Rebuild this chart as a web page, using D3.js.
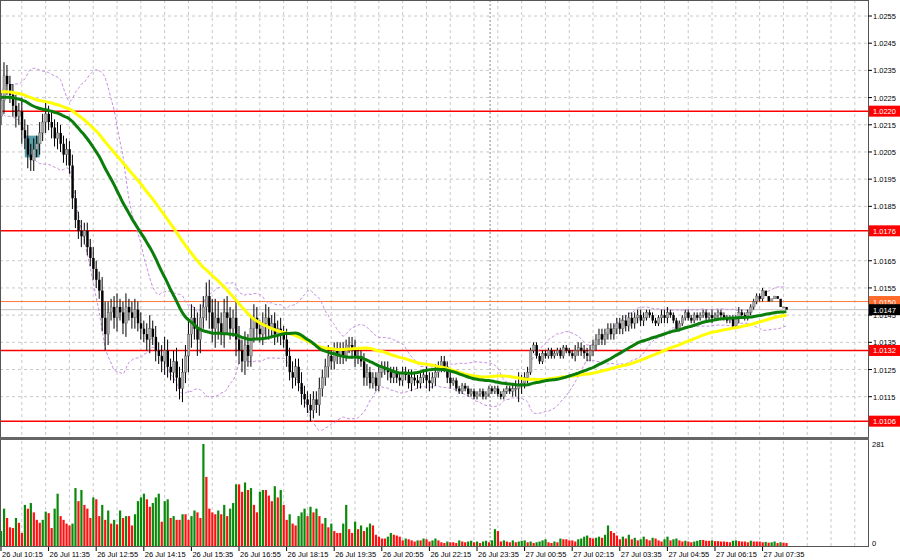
<!DOCTYPE html>
<html><head><meta charset="utf-8">
<script src="https://cdn.jsdelivr.net/npm/d3@7"></script>
<style>body{margin:0;background:#fff}svg{display:block;font-family:"Liberation Sans",Arial,sans-serif}</style>
</head><body><svg id="c" width="900" height="560"></svg>
<script>
// closes before the visible window (pips above 1.0100), used only to seed indicators
const history=[131,132,130,131,133,132,131,130,131,132,130,131,
130,131,129,130,132,131,130,129,130,131,129,128,129,130,128,127,128,129,128,127,
126,127,128,127,126,125,126,127,126,125,124,125,126,125,124,123,124,125,124,123,
122,123,124,123,122,121,122,123,122,121];
// visible closes in pips above 1.0100
const closes=[124,133,130,126, 122,118,120,113,110, 104,102,106,108,112, 116,119,116,114, 110,112,108,104,106,100,
88,80,76,74,76, 70,66,62,58,54, 44,38,46,48, 44,48,46,42,48,46,44,47,42, 40,38,36,40,37,32,30,
28,32,26,24,28,22,18, 24,30,38,44,40,36,44,48,52, 46,40,44,42,38,46,44, 40,44,36,32,28,34,30,40,
44,40,38,42,44,40,42,38,40,38, 36,30,24,22,26,20,16, 14,12,10,14,12,18, 22,26,30,28,32,30,32,30,34,
34,32,30,30,28, 22,24,20,22,19,24,26, 25,24,22,24,22,21,24,23,20,22,21,20,22,23,21,20,22,24,26,
28,26,22,20,21, 18,17,19,18,16,17,15,16,17,15,16,18,17,18,16,15,17,18,17,18,18,19, 20,22,24,32,
34,30,28,31,30,32,30,31,32,30,33,32,31,30,32,33,32,31, 30,32,34,36,38,36,38,40,38,40,
42,40,43,41,44,42,44,45,43,44,46,45,43,42,44,45,44,46,45, 43,40,42,44,46,44,43,45,44,45,46,44,45,44,45,46,45,44,
43,44,41,44,46,45,44,46,48, 50,52,51,54,52,50,51,52,51,48,48,47];
const openFirst=118;
const wicks=[3,5,4,3,4,4,3,5,4,5,4,4,3,4,3,4,3,4,3,4,3,3,4,3,
4,3,3,4,3,3,3,4,3,3,5,6,4,3,4,5,3,4,5,3,4,4,3,4,3,4,5,3,4,3,
4,5,4,3,4,5,4,5,4,6,5,4,6,5,4,5,6,5,7,6,4,5,6,4,3,6,5,4,5,4,
4,5,4,3,4,5,4,3,4,3,4,3,4,3,4,3,3,4,3,3,4,3,3,4,3,3,4,3,3,3,
3,3,2,3,3,4,3,2,3,3,2,2,2,2,2,2,3,2,2,2,2,2,2,2,3,2,2,2,2,3,
3,2,3,2,2,2,2,2,1,1,1,1,1,1,1,1,1,1,1,1,1,1,1,1,1,1,1,1,2,3,5,
3,2,2,1,1,1,1,1,1,1,1,1,1,1,1,1,1,1,2,2,2,2,2,2,2,2,2,2,
2,2,2,2,2,2,2,2,2,2,2,2,2,2,1,1,1,1,1,2,2,2,1,1,1,1,1,1,1,1,1,1,1,1,
1,1,2,1,1,1,1,1,1,1,1,2,1,1,1,1,1,1,1,1];
const volumes=[40,100,75,50,48,75,62,35,110,100,115,90,70,62,70,92,88,
48,100,140,80,70,60,55,60,
155,120,150,110,100,75,130,125,80,110,70,95,60,70,58,95,75,
80,80,55,85,120,130,140,125,105,115,130,140,65,120,125,75,80,
70,70,85,85,70,80,95,90,75,273,185,100,90,85,95,85,110,
80,100,115,165,165,145,170,150,155,110,90,145,150,150,135,120,160,
130,150,110,70,85,60,55,80,90,100,80,105,90,100,80,60,75,
50,60,40,35,35,60,110,45,35,65,45,55,40,50,60,55,30,
25,20,20,25,35,30,28,25,15,20,18,15,12,15,15,20,18,
12,15,20,15,10,8,12,10,10,8,15,12,10,12,14,10,12,
8,12,14,10,15,45,40,12,15,12,10,15,10,12,14,15,10,
12,8,10,12,15,18,10,8,12,10,20,18,18,15,15,12,18,
20,25,28,22,20,22,25,22,30,55,40,35,28,18,25,20,30,
18,22,15,18,25,18,15,22,20,15,12,18,25,15,18,20,15,
12,14,12,10,12,14,16,16,14,14,15,13,13,12,12,11,10,
14,15,13,12,12,10,14,12,12,12,10,11,9,10,12,8,10,9,8];
const timeLabels=["26 Jul 10:15","26 Jul 11:35","26 Jul 12:55","26 Jul 14:15","26 Jul 15:35","26 Jul 16:55","26 Jul 18:15","26 Jul 19:35","26 Jul 20:55","26 Jul 22:15","26 Jul 23:35","27 Jul 00:55","27 Jul 02:15","27 Jul 03:35","27 Jul 04:55","27 Jul 06:15","27 Jul 07:35"];
const priceTicks=[1.0255,1.0245,1.0235,1.0225,1.0215,1.0205,1.0195,1.0185,1.0165,1.0155,1.0145,1.0135,1.0125,1.0115];
const levels=[1.0220,1.0176,1.0132,1.0106];
const bidPrice=1.0150, lastPrice=1.0147;
const volMax=281;

const svg=d3.select("#c");
const W=868, nBars=290;
const x=d3.scaleLinear().domain([0,nBars]).range([1,1+nBars*2.975]);
const y=d3.scaleLinear().domain([1.0115,1.0255]).range([396.7,16]);
const yv=d3.scaleLinear().domain([0,volMax]).range([546,441]);
const P=p=>1.01+p/10000;

const bars=closes.map((c,i)=>{const o=i?closes[i-1]:openFirst;return{i,o,c,h:Math.max(o,c)+wicks[i],l:Math.min(o,c)-wicks[i]};});
const all=history.concat(closes), H=history.length;

const g=svg.append("g");
priceTicks.forEach(t=>g.append("line").attr("x1",0).attr("x2",W).attr("y1",y(t)).attr("y2",y(t)).attr("stroke","#c8c8c8").attr("stroke-dasharray","3,3"));
for(let b=7;b<nBars;b+=8){const xx=x(b);if(xx>W)break;
 g.append("line").attr("x1",xx).attr("x2",xx).attr("y1",0).attr("y2",437).attr("stroke","#c8c8c8").attr("stroke-dasharray","3,3");
 g.append("line").attr("x1",xx).attr("x2",xx).attr("y1",441).attr("y2",547).attr("stroke","#c8c8c8").attr("stroke-dasharray","3,3");}
svg.append("line").attr("x1",x(164.4)).attr("x2",x(164.4)).attr("y1",0).attr("y2",547).attr("stroke","#888").attr("stroke-dasharray","2,2");

levels.forEach(l=>svg.append("line").attr("x1",0).attr("x2",W).attr("y1",y(l)).attr("y2",y(l)).attr("stroke","#f00").attr("stroke-width",1.5));
svg.append("line").attr("x1",0).attr("x2",W).attr("y1",y(bidPrice)).attr("y2",y(bidPrice)).attr("stroke","#ff7a3a");
svg.append("line").attr("x1",0).attr("x2",W).attr("y1",y(lastPrice)).attr("y2",y(lastPrice)).attr("stroke","#c0c0c0");

svg.append("rect").attr("x",x(8)).attr("width",x(13)-x(8)).attr("y",y(P(111))).attr("height",y(P(103))-y(P(111))).attr("fill","#3a8f98").attr("opacity",0.85);

function sma(n){return closes.map((_,i)=>d3.mean(all.slice(H+i-n+1,H+i+1)));}
const maFast=sma(38), maSlow=sma(62), bb=sma(20);
const sd=closes.map((_,i)=>d3.deviation(all.slice(H+i-19,H+i+1)));
const line=d3.line().x((d,i)=>x(i)).y(d=>y(P(d))).curve(d3.curveMonotoneX);
svg.append("path").attr("d",line(bb.map((m,i)=>m+2*sd[i]))).attr("fill","none").attr("stroke","#c48ee0").attr("stroke-dasharray","3,2");
svg.append("path").attr("d",line(bb.map((m,i)=>m-2*sd[i]))).attr("fill","none").attr("stroke","#c48ee0").attr("stroke-dasharray","3,2");

const cg=svg.append("g");
bars.forEach(b=>{const xx=x(b.i);
 cg.append("line").attr("x1",xx).attr("x2",xx).attr("y1",y(P(b.h))).attr("y2",y(P(b.l))).attr("stroke","#000");
 const up=b.c>=b.o;const t=y(P(Math.max(b.o,b.c))),bt=y(P(Math.min(b.o,b.c)));
 cg.append("rect").attr("x",xx-1).attr("width",2.4).attr("y",t).attr("height",Math.max(1,bt-t)).attr("fill",up?"#a8a8a8":"#000").attr("stroke",up?"#555":"none").attr("stroke-width",0.4);});
svg.append("path").attr("d",line(maSlow)).attr("fill","none").attr("stroke","#ffff00").attr("stroke-width",3);
svg.append("path").attr("d",line(maFast)).attr("fill","none").attr("stroke","#0b7d0b").attr("stroke-width",3);

volumes.forEach((v,i)=>{const up=i===0||v>volumes[i-1];
 svg.append("rect").attr("x",x(i)-1).attr("width",2.2).attr("y",yv(v)).attr("height",yv(0)-yv(v)).attr("fill",up?"#0a8a0a":"#ff1010");});

svg.append("rect").attr("x",0.5).attr("y",0.5).attr("width",W).attr("height",437).attr("fill","none").attr("stroke","#555");
svg.append("rect").attr("x",0.5).attr("y",439.5).attr("width",W).attr("height",107).attr("fill","none").attr("stroke","#555");
svg.append("rect").attr("x",0).attr("y",437).attr("width",W+1).attr("height",3).attr("fill","#666");

const ax=svg.append("g").attr("font-size","7.5px").attr("fill","#000");
priceTicks.forEach(t=>{ax.append("line").attr("x1",W).attr("x2",W+4).attr("y1",y(t)).attr("y2",y(t)).attr("stroke","#000");
 ax.append("text").attr("x",W+5).attr("y",y(t)+3).text(t.toFixed(4));});
function tag(v,bg,fg){ax.append("rect").attr("x",W+1).attr("y",y(v)-5.5).attr("width",31).attr("height",11).attr("fill",bg);
 ax.append("text").attr("x",W+5).attr("y",y(v)+3).attr("fill",fg).text(v.toFixed(4));}
levels.forEach(l=>tag(l,"#f00","#fff"));
tag(bidPrice,"#ff6a2a","#fff");tag(lastPrice,"#000","#fff");
ax.append("text").attr("x",W+4).attr("y",447).text(volMax);
ax.append("text").attr("x",W+4).attr("y",546).text("0");

timeLabels.forEach((t,k)=>{const xx=x(k*16);
 ax.append("line").attr("x1",xx).attr("x2",xx).attr("y1",547).attr("y2",551).attr("stroke","#000");
 ax.append("text").attr("x",xx+1).attr("y",557).text(t);});
</script></body></html>
